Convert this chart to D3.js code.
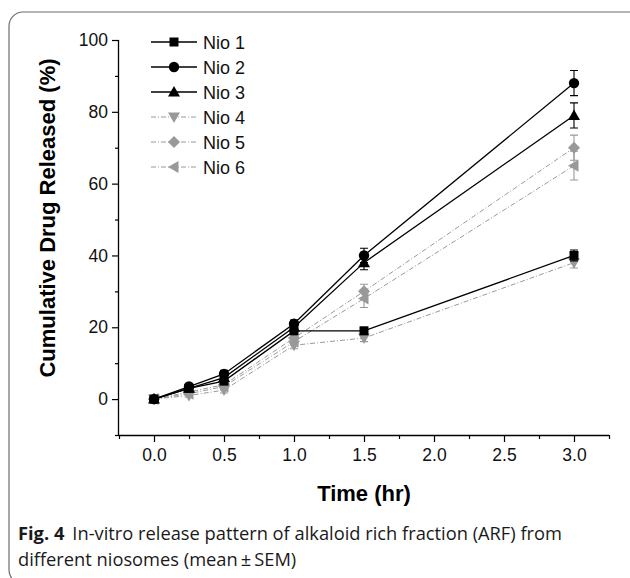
<!DOCTYPE html>
<html><head><meta charset="utf-8">
<script src="https://cdn.jsdelivr.net/npm/d3@7"></script>
<style>body{margin:0;background:#fff}svg{display:block}</style>
</head><body><svg id="c" width="630" height="578"></svg>
<script>
const times = [0, 0.25, 0.5, 1.0, 1.5, 3.0];
const seriesNames = ["Nio 1", "Nio 2", "Nio 3", "Nio 4", "Nio 5", "Nio 6"];
const nio1 = [0, 3.0, 5.0, 19.0, 19.0, 40.0];
const nio2 = [0, 3.5, 7.0, 21.0, 40.0, 88.0];
const nio3 = [0, 3.0, 6.0, 20.0, 38.0, 79.0];
const nio4 = [0, 1.0, 2.5, 15.0, 17.0, 38.0];
const nio5 = [0, 2.0, 4.0, 17.0, 30.0, 70.0];
const nio6 = [0, 1.5, 3.5, 16.0, 28.0, 65.0];
const err1 = [0.5, 0.5, 0.8, 1.0, 1.0, 1.5];
const err2 = [0.5, 0.6, 1.0, 1.0, 2.0, 3.5];
const err3 = [0.5, 0.6, 1.0, 1.0, 2.0, 3.5];
const err4 = [0.5, 0.5, 0.8, 1.0, 1.0, 1.5];
const err5 = [0.5, 0.5, 0.8, 1.0, 2.0, 3.5];
const err6 = [0.5, 0.5, 0.8, 1.0, 2.5, 4.0];
const yTicks = [0, 20, 40, 60, 80, 100];
const xTicks = [0, 0.5, 1.0, 1.5, 2.0, 2.5, 3.0];

const values = [nio1, nio2, nio3, nio4, nio5, nio6];
const errors = [err1, err2, err3, err4, err5, err6];
const colors = ["#000", "#000", "#000", "#999", "#999", "#999"];
const dashes = [null, null, null, "5,2,1,2", "5,2,1,2", "5,2,1,2"];
const widths = [1.3, 1.3, 1.3, 1, 1, 1];
const symbols = ["square", "circle", "up", "down", "diamond", "left"];

const svg = d3.select("#c");
svg.append("rect").attr("x", 9).attr("y", 12).attr("width", 640).attr("height", 572)
  .attr("rx", 14).attr("fill", "none").attr("stroke", "#6d6d6d").attr("stroke-width", 1.2);

const x = d3.scaleLinear().domain([-0.25, 3.25]).range([119, 609]);
const y = d3.scaleLinear().domain([-10, 100]).range([435, 40]);

const font = "Liberation Sans, Arial, sans-serif";

const xAxis = svg.append("g").attr("transform", `translate(0,${y(-10)})`)
  .call(d3.axisBottom(x).tickValues(xTicks).tickFormat(d3.format(".1f")).tickSize(7).tickPadding(7));
const xMinor = svg.append("g").attr("transform", `translate(0,${y(-10)})`)
  .call(d3.axisBottom(x).tickValues(d3.range(-0.25, 3.26, 0.5)).tickFormat("").tickSize(4));
const yAxis = svg.append("g").attr("transform", `translate(${x(-0.25)},0)`)
  .call(d3.axisLeft(y).tickValues(yTicks).tickSize(7).tickPadding(4));
const yMinor = svg.append("g").attr("transform", `translate(${x(-0.25)},0)`)
  .call(d3.axisLeft(y).tickValues(d3.range(-10, 91, 20)).tickFormat("").tickSize(4));
[xAxis, xMinor, yAxis, yMinor].forEach(g => {
  g.select(".domain").attr("stroke", "#000").attr("stroke-width", 1.3);
  g.selectAll(".tick line").attr("stroke", "#000").attr("stroke-width", 1.2);
  g.selectAll("text").attr("font-family", font).attr("font-size", 17.5).attr("fill", "#111");
});
xMinor.select(".domain").remove();
yMinor.select(".domain").remove();
xAxis.select(".domain").attr("d", `M${x(-0.25)},0.5H${x(3.25)}`);
yAxis.select(".domain").attr("d", `M-0.5,${y(100)}V${y(-10)}`);

svg.append("text").attr("x", 364).attr("y", 501).attr("text-anchor", "middle")
  .attr("font-family", font).attr("font-weight", "bold").attr("font-size", 22).text("Time (hr)");
svg.append("text").attr("transform", `translate(55,${218}) rotate(-90)`).attr("text-anchor", "middle")
  .attr("font-family", font).attr("font-weight", "bold").attr("font-size", 22)
  .text("Cumulative Drug Released (%)");

function symbolPath(sym) {
  switch (sym) {
    case "square": return "M-4.5,-4.5H4.5V4.5H-4.5Z";
    case "up": return "M0,-6L6,4.5H-6Z";
    case "down": return "M0,6L6,-4.5H-6Z";
    case "diamond": return "M0,-6L6,0L0,6L-6,0Z";
    case "left": return "M-6,0L4.5,-6V6Z";
    default: return null;
  }
}
function drawMarker(g, sym, color) {
  if (sym === "circle") g.append("circle").attr("r", 5.2).attr("fill", color);
  else g.append("path").attr("d", symbolPath(sym)).attr("fill", color);
}

const line = d3.line().x(d => x(d[0])).y(d => y(d[1]));
const order = [3, 4, 5, 0, 1, 2];
order.forEach(i => {
  const pts = times.map((t, k) => [t, values[i][k]]);
  const g = svg.append("g");
  const p = g.append("path").attr("d", line(pts)).attr("fill", "none")
    .attr("stroke", colors[i]).attr("stroke-width", widths[i]);
  if (dashes[i]) p.attr("stroke-dasharray", dashes[i]);
  pts.forEach((d, k) => {
    const e = errors[i][k];
    const cx = x(d[0]);
    g.append("path").attr("d",
      `M${cx},${y(d[1] - e)}V${y(d[1] + e)}M${cx - 4},${y(d[1] + e)}H${cx + 4}M${cx - 4},${y(d[1] - e)}H${cx + 4}`)
      .attr("stroke", colors[i]).attr("stroke-width", 1.1).attr("fill", "none");
    drawMarker(g.append("g").attr("transform", `translate(${cx},${y(d[1])})`), symbols[i], colors[i]);
  });
});

const leg = svg.append("g");
seriesNames.forEach((n, i) => {
  const ly = 42 + i * 25;
  const l = leg.append("line").attr("x1", 151).attr("x2", 197).attr("y1", ly).attr("y2", ly)
    .attr("stroke", colors[i]).attr("stroke-width", widths[i]);
  if (dashes[i]) l.attr("stroke-dasharray", dashes[i]);
  drawMarker(leg.append("g").attr("transform", `translate(174,${ly})`), symbols[i], colors[i]);
  leg.append("text").attr("x", 203).attr("y", ly + 6.5).attr("font-family", font)
    .attr("font-size", 18).attr("fill", "#111").text(n);
});

const capFont = "Open Sans, Noto Sans, sans-serif";
const cap = svg.append("text").attr("x", 18).attr("y", 540).attr("font-family", capFont)
  .attr("font-size", 18.3).attr("fill", "#1a1a1a");
cap.append("tspan").attr("font-weight", "bold").text("Fig. 4");
cap.append("tspan").attr("dx", 8).text("In-vitro release pattern of alkaloid rich fraction (ARF) from");
svg.append("text").attr("x", 18).attr("y", 566).attr("font-family", capFont)
  .attr("font-size", 18.3).attr("fill", "#1a1a1a").text("different niosomes (mean\u2009\u00b1\u2009SEM)");
</script></body></html>
